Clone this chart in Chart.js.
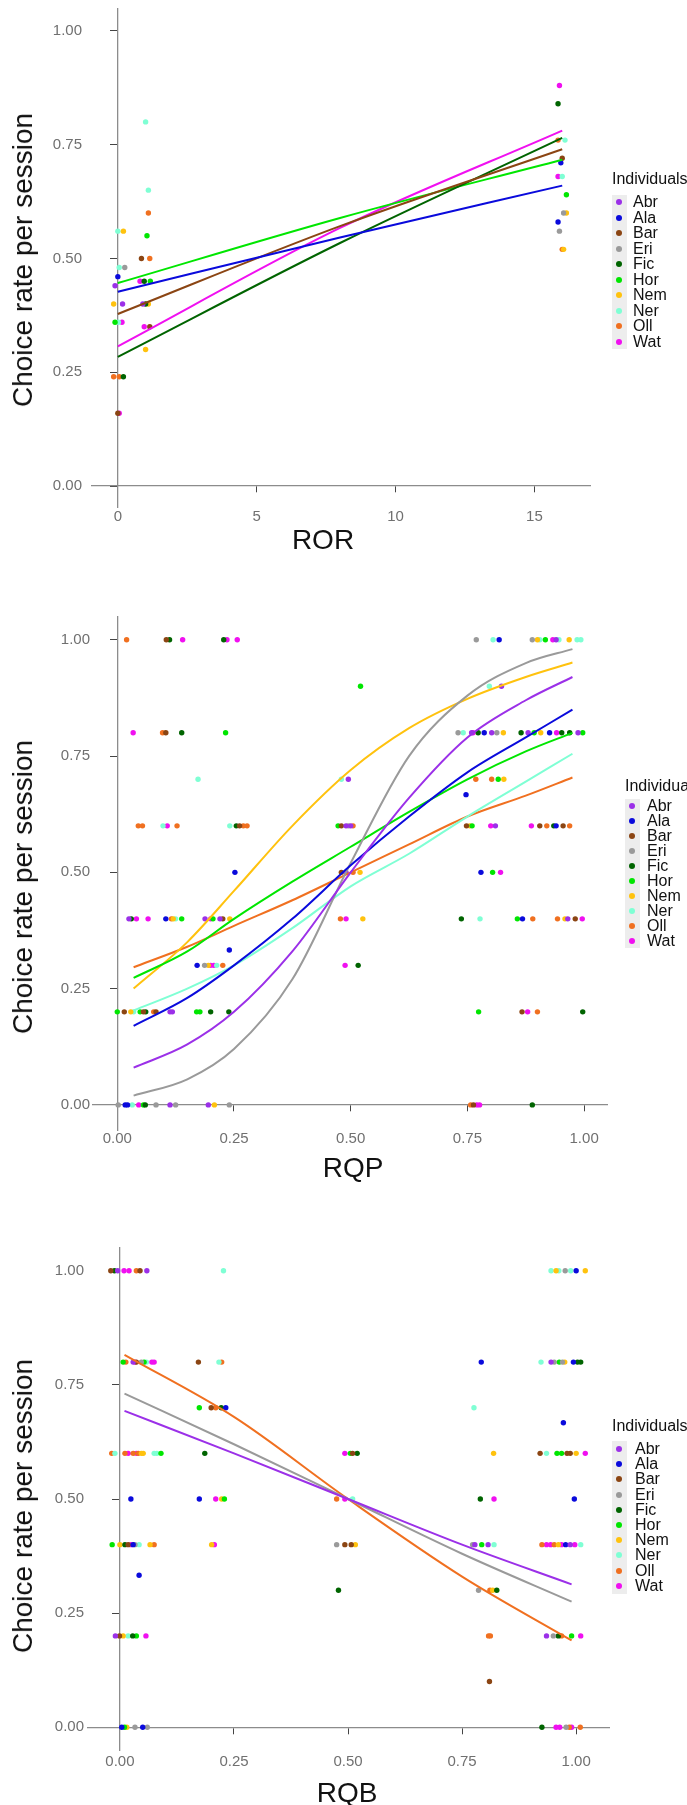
<!DOCTYPE html>
<html>
<head>
<meta charset="utf-8">
<script src="https://cdn.jsdelivr.net/npm/chart.js@4.4.1/dist/chart.umd.min.js"></script>
<style>
  html, body { margin: 0; padding: 0; background: #fff; }
  #page { position: relative; width: 687px; height: 1805px; overflow: hidden;
          font-family: "Liberation Sans", Arial, sans-serif; }
  canvas { position: absolute; left: 0; }
  .t { position: absolute; white-space: nowrap; line-height: 1; color: #111; }
</style>
</head>
<body>
<div id="page">
  <canvas id="ror" width="687" height="560" style="top:0px"></canvas>
  <canvas id="rqp" width="687" height="620" style="top:560px"></canvas>
  <canvas id="rqb" width="687" height="625" style="top:1180px"></canvas>
</div>
<script>
const individuals = ['Abr', 'Ala', 'Bar', 'Eri', 'Fic', 'Hor', 'Nem', 'Ner', 'Oll', 'Wat'];
const palette = ['#9B30E8', '#0A0ADC', '#8B4513', '#9A9A9A', '#006400', '#00E600', '#FFC20E', '#7FFFD4', '#F07020', '#F010F0'];
const legendTitle = 'Individuals';
const yTitle = 'Choice rate per session';

const rateTicks = [0, 0.25, 0.5, 0.75, 1];
const rateLabels = ['0.00', '0.25', '0.50', '0.75', '1.00'];
const rorTicks = [0, 5, 10, 15];
const rorLabels = ['0', '5', '10', '15'];

// ROR panel: [individual, ROR, choice rate]
const rorPoints = [
  ['Ner', 1.0, 0.80], ['Ner', 1.1, 0.65], ['Oll', 1.1, 0.60], ['Ner', 0.0, 0.56], ['Nem', 0.2, 0.56],
  ['Hor', 1.05, 0.55], ['Ner', 0.05, 0.48], ['Eri', 0.25, 0.48], ['Bar', 0.85, 0.50], ['Oll', 1.15, 0.50],
  ['Ala', 0.0, 0.46], ['Abr', -0.1, 0.44], ['Wat', 0.8, 0.45], ['Fic', 0.95, 0.45], ['Hor', 1.17, 0.45],
  ['Nem', -0.15, 0.40], ['Abr', 0.17, 0.40], ['Abr', 0.9, 0.40], ['Fic', 1.0, 0.40], ['Nem', 1.1, 0.40],
  ['Hor', -0.1, 0.36], ['Ner', 0.02, 0.36], ['Wat', 0.15, 0.36], ['Wat', 0.95, 0.35], ['Bar', 1.15, 0.35],
  ['Nem', 1.0, 0.30], ['Oll', -0.15, 0.24], ['Oll', 0.05, 0.24], ['Fic', 0.2, 0.24], ['Bar', 0.0, 0.16],
  ['Wat', 0.05, 0.16],
  ['Wat', 15.9, 0.88], ['Fic', 15.85, 0.84], ['Oll', 15.85, 0.76], ['Ner', 16.1, 0.76], ['Bar', 16.0, 0.72],
  ['Ala', 15.95, 0.71], ['Wat', 15.85, 0.68], ['Ner', 16.0, 0.68], ['Hor', 16.15, 0.64], ['Eri', 16.05, 0.60],
  ['Nem', 16.15, 0.60], ['Ala', 15.85, 0.58], ['Eri', 15.9, 0.56], ['Oll', 16.0, 0.52], ['Nem', 16.05, 0.52]
];
const rorFitX = [0, 8, 16];
const rorFitWho = ['Ala', 'Bar', 'Fic', 'Hor', 'Wat'];
const rorFitY = [
  [0.427, 0.546, 0.660],
  [0.378, 0.571, 0.740],
  [0.284, 0.534, 0.765],
  [0.446, 0.589, 0.717],
  [0.307, 0.567, 0.781]
];

// RQP panel
const rqpPoints = [
  ['Oll', .02, 1], ['Bar', .105, 1], ['Fic', .112, 1], ['Wat', .14, 1], ['Fic', .228, 1], ['Wat', .235, 1], ['Wat', .257, 1],
  ['Eri', .769, 1], ['Ner', .805, 1], ['Ala', .818, 1], ['Eri', .889, 1], ['Nem', .9, 1], ['Ner', .905, 1], ['Hor', .917, 1],
  ['Wat', .933, 1], ['Abr', .94, 1], ['Ner', .946, 1], ['Nem', .968, 1], ['Ner', .985, 1], ['Ner', .993, 1],
  ['Hor', .521, .9], ['Ner', .797, .9], ['Abr', .823, .9],
  ['Wat', .034, .8], ['Oll', .097, .8], ['Bar', .104, .8], ['Fic', .138, .8], ['Hor', .232, .8], ['Eri', .73, .8],
  ['Ner', .741, .8], ['Abr', .759, .8], ['Wat', .762, .8], ['Fic', .773, .8], ['Ala', .786, .8], ['Abr', .802, .8],
  ['Eri', .813, .8], ['Nem', .827, .8], ['Fic', .865, .8], ['Abr', .88, .8], ['Hor', .893, .8], ['Nem', .907, .8],
  ['Ala', .926, .8], ['Wat', .941, .8], ['Fic', .952, .8], ['Fic', .969, .8], ['Abr', .987, .8], ['Hor', .997, .8],
  ['Ner', .173, .7], ['Ner', .48, .7], ['Abr', .495, .7], ['Oll', .768, .7], ['Oll', .802, .7], ['Hor', .816, .7], ['Nem', .828, .7],
  ['Ala', .747, .667],
  ['Oll', .045, .6], ['Oll', .054, .6], ['Ner', .098, .6], ['Wat', .107, .6], ['Oll', .128, .6], ['Ner', .241, .6],
  ['Fic', .255, .6], ['Bar', .262, .6], ['Oll', .27, .6], ['Oll', .278, .6], ['Hor', .473, .6], ['Bar', .48, .6],
  ['Abr', .49, .6], ['Eri', .495, .6], ['Abr', .50, .6], ['Oll', .505, .6], ['Bar', .748, .6], ['Nem', .755, .6],
  ['Hor', .76, .6], ['Wat', .80, .6], ['Abr', .81, .6], ['Wat', .887, .6], ['Bar', .905, .6], ['Oll', .92, .6],
  ['Fic', .935, .6], ['Ala', .94, .6], ['Bar', .955, .6], ['Oll', .969, .6],
  ['Ala', .252, .5], ['Bar', .48, .5], ['Abr', .49, .5], ['Oll', .505, .5], ['Nem', .52, .5], ['Ala', .779, .5],
  ['Hor', .804, .5], ['Wat', .821, .5],
  ['Abr', .025, .4], ['Fic', .03, .4], ['Wat', .041, .4], ['Wat', .066, .4], ['Ala', .104, .4], ['Oll', .116, .4],
  ['Nem', .12, .4], ['Ner', .125, .4], ['Hor', .138, .4], ['Abr', .188, .4], ['Wat', .2, .4], ['Hor', .205, .4],
  ['Abr', .22, .4], ['Bar', .226, .4], ['Nem', .241, .4], ['Oll', .478, .4], ['Wat', .49, .4], ['Nem', .526, .4],
  ['Fic', .737, .4], ['Ner', .777, .4], ['Hor', .857, .4], ['Ala', .868, .4], ['Oll', .89, .4], ['Oll', .943, .4],
  ['Nem', .959, .4], ['Abr', .965, .4], ['Bar', .981, .4], ['Wat', .996, .4],
  ['Ala', .24, .333],
  ['Ala', .171, .3], ['Eri', .187, .3], ['Nem', .195, .3], ['Wat', .2, .3], ['Wat', .207, .3], ['Ner', .213, .3],
  ['Oll', .226, .3], ['Wat', .488, .3], ['Fic', .516, .3],
  ['Hor', 0, .2], ['Bar', .015, .2], ['Nem', .029, .2], ['Ner', .035, .2], ['Hor', .049, .2], ['Bar', .056, .2],
  ['Fic', .061, .2], ['Oll', .078, .2], ['Bar', .083, .2], ['Abr', .113, .2], ['Abr', .118, .2], ['Hor', .17, .2],
  ['Hor', .177, .2], ['Fic', .2, .2], ['Fic', .239, .2], ['Hor', .774, .2], ['Bar', .867, .2], ['Wat', .879, .2],
  ['Oll', .9, .2], ['Fic', .997, .2],
  ['Eri', .002, 0], ['Ala', .017, 0], ['Ala', .022, 0], ['Ner', .032, 0], ['Wat', .046, 0], ['Hor', .056, 0],
  ['Fic', .06, 0], ['Eri', .083, 0], ['Abr', .113, 0], ['Eri', .125, 0], ['Abr', .195, 0], ['Nem', .208, 0],
  ['Eri', .24, 0], ['Oll', .757, 0], ['Bar', .763, 0], ['Wat', .77, 0], ['Wat', .776, 0], ['Fic', .889, 0]
];
const rqpFitX = [0.035, 0.15, 0.25, 0.375, 0.5, 0.625, 0.75, 0.875, 0.975];
const rqpFitWho = ['Abr', 'Ala', 'Eri', 'Hor', 'Nem', 'Ner', 'Oll'];
const rqpFitY = [
  [0.080, 0.130, 0.200, 0.330, 0.500, 0.660, 0.790, 0.870, 0.920],
  [0.170, 0.230, 0.300, 0.400, 0.515, 0.620, 0.715, 0.790, 0.850],
  [0.020, 0.055, 0.120, 0.270, 0.520, 0.750, 0.880, 0.950, 0.980],
  [0.273, 0.330, 0.400, 0.480, 0.555, 0.630, 0.700, 0.760, 0.800],
  [0.250, 0.350, 0.460, 0.600, 0.720, 0.810, 0.873, 0.920, 0.951],
  [0.203, 0.250, 0.300, 0.380, 0.470, 0.540, 0.620, 0.695, 0.755],
  [0.296, 0.340, 0.385, 0.440, 0.500, 0.560, 0.620, 0.665, 0.704]
];

// RQB panel
const rqbPoints = [
  ['Bar', -.02, 1], ['Fic', -.012, 1], ['Abr', -.005, 1], ['Wat', .009, 1], ['Wat', .02, 1], ['Oll', .036, 1],
  ['Bar', .044, 1], ['Abr', .059, 1], ['Ner', .227, 1], ['Ner', .945, 1], ['Nem', .956, 1], ['Ner', .962, 1],
  ['Eri', .976, 1], ['Ner', .988, 1], ['Ala', 1.0, 1], ['Nem', 1.02, 1],
  ['Hor', .007, .8], ['Oll', .013, .8], ['Abr', .029, .8], ['Wat', .033, .8], ['Bar', .036, .8], ['Eri', .047, .8],
  ['Hor', .053, .8], ['Ner', .058, .8], ['Wat', .07, .8], ['Wat', .075, .8], ['Bar', .172, .8], ['Ner', .217, .8],
  ['Oll', .223, .8], ['Ala', .792, .8], ['Ner', .923, .8], ['Abr', .945, .8], ['Eri', .952, .8], ['Hor', .963, .8],
  ['Eri', .97, .8], ['Nem', .975, .8], ['Ala', .994, .8], ['Fic', 1.003, .8], ['Fic', 1.01, .8],
  ['Hor', .174, .7], ['Bar', .2, .7], ['Oll', .21, .7], ['Fic', .222, .7], ['Ala', .232, .7], ['Ner', .776, .7],
  ['Ala', .972, .667],
  ['Oll', -.018, .6], ['Ner', -.011, .6], ['Oll', .011, .6], ['Wat', .018, .6], ['Oll', .029, .6], ['Wat', .036, .6],
  ['Oll', .04, .6], ['Nem', .047, .6], ['Nem', .051, .6], ['Ner', .075, .6], ['Ner', .081, .6], ['Hor', .09, .6],
  ['Fic', .186, .6], ['Wat', .493, .6], ['Hor', .505, .6], ['Bar', .51, .6], ['Fic', .52, .6], ['Nem', .819, .6],
  ['Bar', .921, .6], ['Ner', .935, .6], ['Hor', .958, .6], ['Hor', .968, .6], ['Bar', .98, .6], ['Bar', .987, .6],
  ['Nem', 1.0, .6], ['Wat', 1.02, .6],
  ['Ala', .024, .5], ['Ala', .174, .5], ['Wat', .21, .5], ['Nem', .223, .5], ['Hor', .229, .5], ['Oll', .475, .5],
  ['Wat', .493, .5], ['Ner', .51, .5], ['Fic', .79, .5], ['Wat', .82, .5], ['Ala', .996, .5],
  ['Hor', -.017, .4], ['Nem', 0, .4], ['Fic', .011, .4], ['Bar', .018, .4], ['Wat', .024, .4], ['Ala', .029, .4],
  ['Eri', .033, .4], ['Ner', .042, .4], ['Nem', .066, .4], ['Oll', .075, .4], ['Nem', .201, .4], ['Wat', .207, .4],
  ['Eri', .475, .4], ['Bar', .493, .4], ['Bar', .507, .4], ['Nem', .516, .4], ['Eri', .773, .4], ['Abr', .778, .4],
  ['Hor', .793, .4], ['Abr', .807, .4], ['Ner', .82, .4], ['Oll', .925, .4], ['Wat', .935, .4], ['Wat', .944, .4],
  ['Oll', .952, .4], ['Nem', .961, .4], ['Wat', .968, .4], ['Ala', .977, .4], ['Abr', .987, .4], ['Wat', .997, .4],
  ['Ner', 1.01, .4],
  ['Ala', .042, .333],
  ['Fic', .479, .3], ['Eri', .786, .3], ['Oll', .811, .3], ['Nem', .817, .3], ['Fic', .826, .3],
  ['Abr', -.01, .2], ['Bar', -.001, .2], ['Nem', .007, .2], ['Ner', .018, .2], ['Fic', .028, .2], ['Hor', .036, .2],
  ['Wat', .057, .2], ['Oll', .808, .2], ['Oll', .812, .2], ['Abr', .935, .2], ['Eri', .95, .2], ['Fic', .961, .2],
  ['Oll', .968, .2], ['Hor', .99, .2], ['Wat', 1.01, .2],
  ['Bar', .81, .1],
  ['Ala', .004, 0], ['Hor', .01, 0], ['Nem', .015, 0], ['Eri', .033, 0], ['Ala', .05, 0], ['Eri', .06, 0],
  ['Fic', .925, 0], ['Wat', .956, 0], ['Wat', .964, 0], ['Eri', .978, 0], ['Oll', .985, 0], ['Wat', .99, 0],
  ['Oll', 1.009, 0]
];
const rqbFitX = [0.01, 0.25, 0.5, 0.75, 0.99];
const rqbFitWho = ['Abr', 'Eri', 'Oll'];
const rqbFitY = [
  [0.693, 0.600, 0.500, 0.400, 0.313],
  [0.731, 0.620, 0.500, 0.380, 0.275],
  [0.816, 0.680, 0.500, 0.330, 0.190]
];

const FONT = '"Liberation Sans", Arial, sans-serif';
const page = document.getElementById('page');

function drawPanel(id, g, points, fitX, fitWho, fitY, xTicks, xLabels) {
  const datasets = [];
  fitWho.forEach((name, k) => datasets.push({
    type: 'line',
    order: 0,
    data: fitX.map((x, i) => ({ x: x, y: fitY[k][i] })),
    borderColor: palette[individuals.indexOf(name)],
    borderWidth: 2,
    pointRadius: 0,
    fill: false,
    cubicInterpolationMode: 'monotone'
  }));
  individuals.forEach((name, k) => datasets.push({
    type: 'scatter',
    order: 1,
    data: points.filter(p => p[0] === name).map(p => ({ x: p[1], y: p[2] })),
    backgroundColor: palette[k],
    borderWidth: 0,
    pointRadius: 2.7
  }));

  const tickFont = { family: FONT, size: 15 };
  const setTicks = vals => s => { s.ticks = vals.map(v => ({ value: v })); };
  const labelFor = (vals, labs) => v => labs[vals.indexOf(v)];

  new Chart(document.getElementById(id), {
    type: 'scatter',
    data: { datasets: datasets },
    options: {
      responsive: false,
      animation: false,
      events: [],
      layout: { padding: { left: 0, right: g.right, top: g.top, bottom: g.bottom } },
      plugins: { legend: { display: false }, tooltip: { enabled: false } },
      scales: {
        x: {
          type: 'linear', position: 'bottom', min: g.xMin, max: g.xMax,
          afterBuildTicks: setTicks(xTicks),
          afterFit: s => { s.height = g.axisH; s.paddingLeft = 0; s.paddingRight = 0; },
          grid: { display: false, drawTicks: false }, border: { display: false },
          ticks: { padding: g.xPad, color: '#707070', font: tickFont, maxRotation: 0,
                   callback: labelFor(xTicks, xLabels) }
        },
        y: {
          type: 'linear', position: 'left', min: g.yMin, max: g.yMax,
          afterBuildTicks: setTicks(rateTicks),
          afterFit: s => { s.width = g.left; s.paddingTop = 0; s.paddingBottom = 0; },
          grid: { display: false, drawTicks: false }, border: { display: false },
          ticks: { padding: g.yPad, color: '#707070', font: tickFont,
                   callback: labelFor(rateTicks, rateLabels) }
        },
        x0: {
          type: 'linear', axis: 'x', position: { y: 0 }, min: g.xMin, max: g.xMax,
          afterBuildTicks: setTicks(xTicks),
          afterFit: s => { s.paddingLeft = 0; s.paddingRight = 0; },
          ticks: { display: false },
          grid: { drawOnChartArea: false, tickLength: 6, color: '#444' },
          border: { color: '#8c8c8c', width: 1.3 }
        },
        y0: {
          type: 'linear', axis: 'y', position: { x: 0 }, min: g.yMin, max: g.yMax,
          afterBuildTicks: setTicks(rateTicks),
          afterFit: s => { s.paddingTop = 0; s.paddingBottom = 0; },
          ticks: { display: false },
          grid: { drawOnChartArea: false, tickLength: 7, color: '#444' },
          border: { color: '#8c8c8c', width: 1.3 }
        }
      }
    }
  });
}

function addText(txt, cx, cy, size, rotate) {
  const d = document.createElement('div');
  d.className = 't';
  d.textContent = txt;
  d.style.fontSize = size + 'px';
  d.style.left = cx + 'px';
  d.style.top = cy + 'px';
  d.style.transform = 'translate(-50%,-50%)' + (rotate ? ' rotate(-90deg)' : '');
  page.appendChild(d);
}

function addLegend(L) {
  const title = document.createElement('div');
  title.className = 't';
  title.textContent = legendTitle;
  title.style.cssText += 'font-size:16px;left:' + L.x + 'px;top:' + L.ty + 'px;transform:translateY(-50%)';
  page.appendChild(title);
  const bg = document.createElement('div');
  bg.style.cssText = 'position:absolute;background:#ededed;left:' + L.x + 'px;top:' + L.bgTop +
    'px;width:15px;height:' + L.bgH + 'px';
  page.appendChild(bg);
  individuals.forEach((name, i) => {
    const cy = L.y0 + i * L.dy;
    const dot = document.createElement('div');
    dot.style.cssText = 'position:absolute;width:6px;height:6px;border-radius:50%;background:' + palette[i] +
      ';left:' + (L.dotX - 3) + 'px;top:' + (cy - 3) + 'px';
    page.appendChild(dot);
    const t = document.createElement('div');
    t.className = 't';
    t.textContent = name;
    t.style.cssText += 'font-size:16px;left:' + L.tx + 'px;top:' + cy + 'px;transform:translateY(-50%)';
    page.appendChild(t);
  });
}

drawPanel('ror', { left: 92, right: 97, top: 9, bottom: 23, axisH: 30, xPad: 1, yPad: 10,
                   xMin: -0.93, xMax: 17.0, yMin: -0.046, yMax: 1.048 },
          rorPoints, rorFitX, rorFitWho, rorFitY, rorTicks, rorLabels);
drawPanel('rqp', { left: 93, right: 80, top: 57, bottom: 20, axisH: 30, xPad: 0, yPad: 3,
                   xMin: -0.052, xMax: 1.049, yMin: -0.054, yMax: 1.049 },
          rqpPoints, rqpFitX, rqpFitWho, rqpFitY, rateTicks, rateLabels);
drawPanel('rqb', { left: 88, right: 78, top: 68, bottom: 25, axisH: 30, xPad: 3, yPad: 4,
                   xMin: -0.07, xMax: 1.072, yMin: -0.05, yMax: 1.05 },
          rqbPoints, rqbFitX, rqbFitWho, rqbFitY, rateTicks, rateLabels);

addText('ROR', 323, 540, 28, false);
addText('RQP', 353, 1168, 28, false);
addText('RQB', 347, 1793, 28, false);
addText(yTitle, 23, 260, 28, true);
addText(yTitle, 23, 887, 28, true);
addText(yTitle, 23, 1506, 28, true);

addLegend({ x: 612, ty: 179, bgTop: 195, bgH: 154, y0: 202, dy: 15.56, dotX: 619, tx: 633 });
addLegend({ x: 625, ty: 786, bgTop: 799, bgH: 149, y0: 806, dy: 15.0, dotX: 632, tx: 647 });
addLegend({ x: 612, ty: 1426, bgTop: 1441, bgH: 153, y0: 1449, dy: 15.2, dotX: 619, tx: 635 });
</script>
</body>
</html>
